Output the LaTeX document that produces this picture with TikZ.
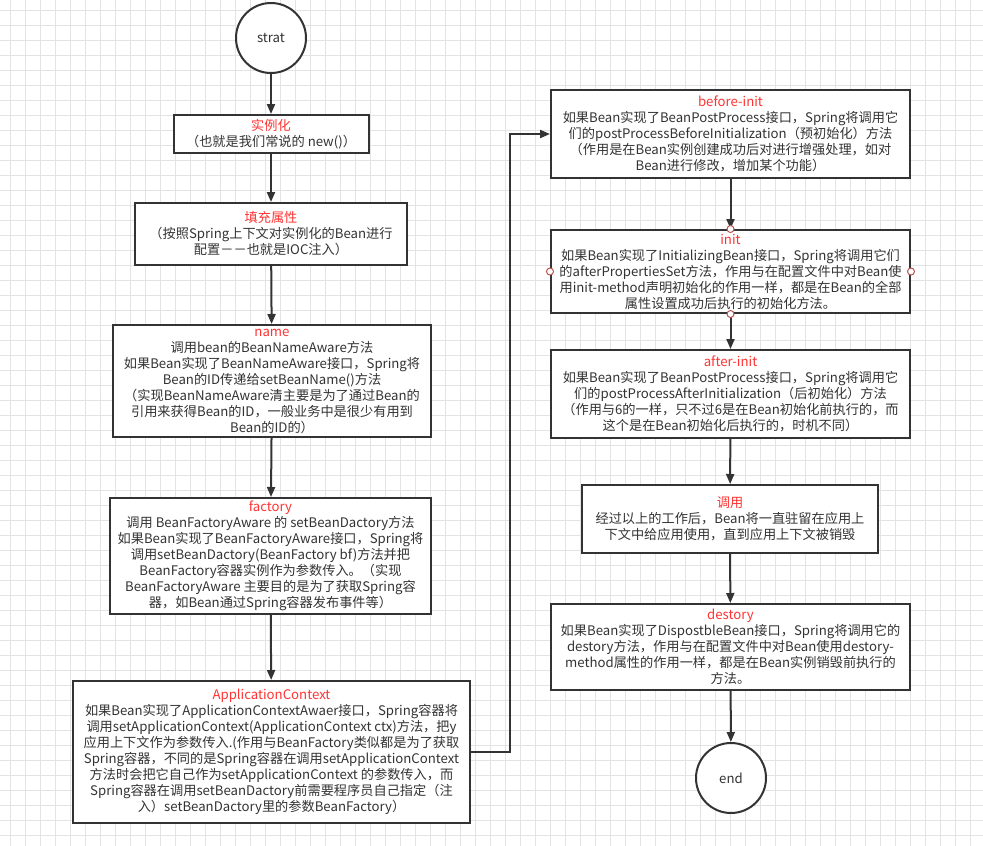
\documentclass[tikz,border=0pt]{standalone}
\usepackage{fontspec}
\setmainfont{Noto Sans CJK SC}
\usepackage{tikz}
\usetikzlibrary{arrows.meta}

\definecolor{ink}{HTML}{333333}
\definecolor{titlered}{HTML}{FF3333}
\definecolor{gridgray}{HTML}{E3E3E3}
\definecolor{pinred}{HTML}{B85450}

\tikzset{
	stepbox/.style={draw=ink, line width=2pt, fill=white, inner sep=0pt, align=center,
		text=ink, font=\fontsize{13.2}{16}\selectfont},
	endpoint/.style={draw=ink, line width=2pt, fill=white, circle, minimum size=70pt,
		inner sep=0pt, text=ink, font=\fontsize{13.2}{16}\selectfont},
	arr/.style={draw=ink, line width=2pt, -{Triangle[length=10pt,width=8pt]}},
	pin/.style={draw=pinred, line width=1pt, fill=white, circle, minimum size=7pt, inner sep=0pt},
	gridline/.style={draw=gridgray, line width=1pt}
}
\newcommand{\ttl}[1]{{\color{titlered}#1}}

\begin{document}
\begin{tikzpicture}[x=1pt, y=-1pt]
	\useasboundingbox (0,0) rectangle (983,846);
	\fill[white] (0,0) rectangle (983,846);
	\foreach \gx in {10,25,...,980} \draw[gridline] (\gx,0) -- (\gx,846);
	\foreach \gy in {10,25,...,845} \draw[gridline] (0,\gy) -- (983,\gy);

	% left column
	\node[endpoint] (start) at (271,38) {strat};
	\node[stepbox, minimum width=195pt, minimum height=38pt] (inst) at (271,134)
		{\ttl{实例化}\\（也就是我们常说的 new()）};
	\node[stepbox, minimum width=272pt, minimum height=62pt] (fill) at (271,234)
		{\ttl{填充属性}\\（按照Spring上下文对实例化的Bean进行\\配置－－也就是IOC注入）};
	\node[stepbox, minimum width=318pt, minimum height=112pt] (name) at (272,381)
		{\ttl{name}\\调用bean的BeanNameAware方法\\如果Bean实现了BeanNameAware接口，Spring将\\Bean的ID传递给setBeanName()方法\\（实现BeanNameAware清主要是为了通过Bean的\\引用来获得Bean的ID，一般业务中是很少有用到\\Bean的ID的）};
	\node[stepbox, minimum width=321pt, minimum height=116pt] (factory) at (270.5,556)
		{\ttl{factory}\\调用 BeanFactoryAware 的 setBeanDactory方法\\如果Bean实现了BeanFactoryAware接口，Spring将\\调用setBeanDactory(BeanFactory bf)方法并把\\BeanFactory容器实例作为参数传入。（实现\\BeanFactoryAware 主要目的是为了获取Spring容\\器，如Bean通过Spring容器发布事件等）};
	\node[stepbox, minimum width=397pt, minimum height=142pt] (ac) at (271.5,752)
		{\ttl{ApplicationContext}\\如果Bean实现了ApplicationContextAwaer接口，Spring容器将\\调用setApplicationContext(ApplicationContext ctx)方法，把y\\应用上下文作为参数传入.(作用与BeanFactory类似都是为了获取\\Spring容器，不同的是Spring容器在调用setApplicationContext\\方法时会把它自己作为setApplicationContext 的参数传入，而\\Spring容器在调用setBeanDactory前需要程序员自己指定（注\\入）setBeanDactory里的参数BeanFactory）};

	% right column
	\node[stepbox, minimum width=359pt, minimum height=88pt] (before) at (730.5,134)
		{\ttl{before-init}\\如果Bean实现了BeanPostProcess接口，Spring将调用它\\们的postProcessBeforeInitialization（预初始化）方法\\（作用是在Bean实例创建成功后对进行增强处理，如对\\Bean进行修改，增加某个功能）};
	\node[stepbox, minimum width=359pt, minimum height=83pt] (init) at (730.5,271.5)
		{\ttl{init}\\如果Bean实现了InitializingBean接口，Spring将调用它们\\的afterPropertiesSet方法，作用与在配置文件中对Bean使\\用init-method声明初始化的作用一样，都是在Bean的全部\\属性设置成功后执行的初始化方法。};
	\node[stepbox, minimum width=359pt, minimum height=88pt] (after) at (730.5,394)
		{\ttl{after-init}\\如果Bean实现了BeanPostProcess接口，Spring将调用它\\们的postProcessAfterInitialization（后初始化）方法\\（作用与6的一样，只不过6是在Bean初始化前执行的，而\\这个是在Bean初始化后执行的，时机不同）};
	\node[stepbox, minimum width=296pt, minimum height=68pt] (call) at (730,519)
		{\ttl{调用}\\经过以上的工作后，Bean将一直驻留在应用上\\下文中给应用使用，直到应用上下文被销毁};
	\node[stepbox, minimum width=359pt, minimum height=86pt] (destroy) at (730.5,647)
		{\ttl{destory}\\如果Bean实现了DispostbleBean接口，Spring将调用它的\\destory方法，作用与在配置文件中对Bean使用destory-\\method属性的作用一样，都是在Bean实例销毁前执行的\\方法。};
	\node[endpoint] (end) at (731,778) {end};

	\draw[arr] (start) -- (inst);
	\draw[arr] (inst) -- (fill);
	\draw[arr] (fill) -- (name);
	\draw[arr] (name) -- (factory);
	\draw[arr] (factory) -- (ac);
	\coordinate (turn) at (510,752);
	\draw[arr] (ac.east) -- (turn) |- (before.west);
	\draw[arr] (before) -- (init);
	\draw[arr] (init) -- (after);
	\draw[arr] (after) -- (call);
	\draw[arr] (call) -- (destroy);
	\draw[arr] (destroy) -- (end);

	% connection marks on init
	\node[pin] (pinN) at (init.north) {};
	\node[pin] (pinS) at (init.south) {};
	\node[pin] (pinW) at (init.west) {};
	\node[pin] (pinE) at (init.east) {};
\end{tikzpicture}
\end{document}
